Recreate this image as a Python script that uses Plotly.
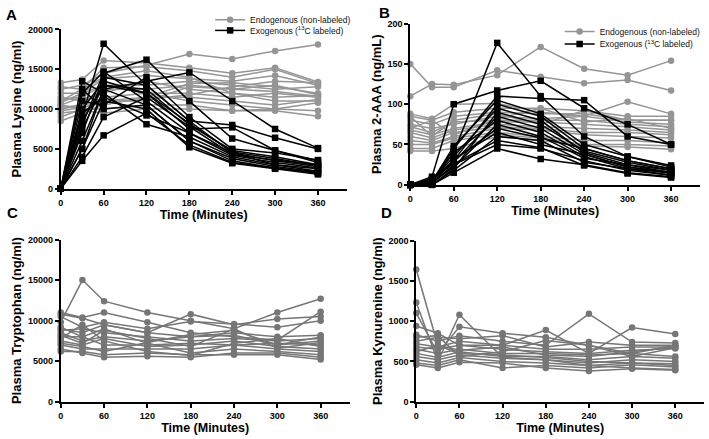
import plotly.graph_objects as go

times = [0, 30, 60, 120, 180, 240, 300, 360]
x_ticks = [0, 60, 120, 180, 240, 300, 360]

# Panel A: plasma lysine (ng/ml)
lys_endo = [
    [12500, 13000, 14500, 15500, 16900, 16300, 17300, 18100],
    [13300, 13700, 16100, 15800, 15200, 14500, 15200, 13400],
    [11000, 12500, 15200, 15300, 14800, 14000, 15000, 13200],
    [10800, 12000, 13800, 14200, 13800, 13500, 14200, 13000],
    [10500, 11500, 13000, 13000, 13500, 13000, 12500, 12800],
    [10000, 10500, 12500, 12500, 13000, 12500, 13000, 11800],
    [9000, 10000, 11500, 12000, 12000, 11500, 12000, 11500],
    [8500, 9500, 10500, 11500, 11500, 11000, 10500, 11200],
    [11500, 11000, 12000, 13500, 12500, 12000, 11000, 11000],
    [12000, 12000, 13000, 12000, 11000, 10500, 10000, 10800],
    [10500, 10000, 10000, 10500, 10500, 9800, 10000, 9800],
    [9500, 9800, 9500, 10000, 10000, 9800, 9800, 9100],
    [11200, 11500, 11000, 11000, 12800, 12500, 12200, 11600],
    [10200, 10500, 11000, 11500, 13200, 13300, 12800, 12000],
    [12800, 12500, 14000, 14800, 14000, 12000, 11500, 11700],
    [9800, 10200, 10800, 11200, 11800, 12800, 13500, 13300],
]
lys_exo = [
    [0, 9000, 18200, 13000, 8500, 4500, 3000, 2500],
    [0, 8000, 14500, 16200, 11000, 6300, 4800, 3300],
    [0, 3500, 6700, 9500, 5500, 3300, 2600, 2000],
    [0, 5000, 12500, 13500, 14600, 11000, 7500, 5100],
    [0, 7000, 14000, 13000, 8500, 8000, 6400, 5000],
    [0, 10000, 13500, 12000, 7500, 7700, 4800, 3500],
    [0, 12000, 14700, 11000, 7000, 4500, 3500, 2800],
    [0, 6000, 12500, 10500, 6000, 3500, 2600, 1900],
    [0, 5000, 11000, 10000, 5200, 3200, 2500, 1800],
    [0, 13500, 12000, 8100, 6500, 4000, 3000, 2200],
    [0, 7500, 13000, 12500, 8000, 4800, 4000, 3000],
    [0, 11000, 10500, 14000, 9000, 5000, 4500, 3600],
    [0, 9500, 11500, 9200, 7000, 4200, 3300, 2600],
    [0, 8500, 13000, 12000, 8200, 4600, 3800, 2900],
    [0, 12500, 10000, 10500, 6000, 3800, 2800, 2100],
    [0, 4000, 9000, 11500, 7800, 4300, 3600, 3000],
]

# Panel B: plasma 2-AAA (ng/mL)
aaa_endo = [
    [110, 125, 124, 136, 171, 144, 136, 154],
    [150, 121, 121, 142, 134, 126, 130, 117],
    [88, 82, 100, 101, 90, 85, 103, 88],
    [85, 80, 90, 95, 95, 92, 85, 85],
    [80, 75, 85, 90, 88, 88, 80, 80],
    [75, 70, 75, 85, 82, 85, 78, 75],
    [72, 65, 78, 80, 80, 80, 75, 72],
    [68, 62, 70, 78, 78, 75, 72, 68],
    [65, 58, 68, 75, 72, 70, 68, 65],
    [60, 55, 65, 72, 70, 65, 65, 62],
    [55, 52, 60, 70, 68, 62, 60, 58],
    [50, 50, 58, 65, 60, 55, 55, 52],
    [45, 45, 55, 62, 58, 50, 50, 48],
    [42, 42, 45, 60, 55, 48, 47, 44],
    [85, 60, 80, 88, 75, 92, 80, 80],
    [70, 80, 62, 82, 95, 78, 82, 70],
]
aaa_exo = [
    [0, 5, 40, 176, 110, 60, 35, 22],
    [0, 10, 100, 117, 129, 95, 75, 50],
    [0, 3, 45, 110, 107, 105, 60, 50],
    [0, 2, 30, 100, 85, 45, 30, 20],
    [0, 0, 20, 90, 75, 42, 28, 18],
    [0, 5, 35, 95, 80, 40, 25, 15],
    [0, 8, 28, 85, 70, 38, 22, 14],
    [0, 0, 15, 45, 32, 25, 15, 10],
    [0, 2, 25, 50, 45, 30, 18, 12],
    [0, 5, 40, 80, 65, 35, 20, 15],
    [0, 3, 22, 75, 60, 33, 25, 18],
    [0, 0, 18, 60, 55, 28, 20, 12],
    [0, 6, 30, 70, 58, 45, 30, 20],
    [0, 4, 48, 105, 88, 50, 35, 24],
    [0, 1, 32, 65, 50, 38, 22, 16],
    [0, 7, 26, 55, 46, 24, 14, 9],
]

# Panel C: plasma tryptophan (ng/ml)
trp = [
    [9800, 15000, 12400, 11000, 10000, 9000, 11000, 12700],
    [11000, 10400, 11000, 9800, 8500, 8000, 7600, 11100],
    [10800, 10300, 9500, 8500, 10800, 9500, 10200, 10500],
    [10500, 9200, 9800, 9000, 9900, 9600, 9200, 10000],
    [9000, 8500, 9500, 8500, 8000, 8500, 8000, 8200],
    [8800, 9000, 8500, 8000, 7500, 7800, 7500, 7800],
    [8500, 7500, 8000, 7500, 8000, 8200, 7000, 7500],
    [8000, 8000, 7000, 7000, 7200, 7000, 7200, 7000],
    [7500, 7000, 7800, 6800, 7000, 7500, 6800, 6500],
    [7000, 6500, 6500, 6500, 6500, 7000, 6500, 6200],
    [6500, 6000, 5500, 5600, 5500, 6000, 6000, 5500],
    [6200, 6200, 5800, 6000, 5800, 5800, 5800, 5200],
    [9200, 8000, 9000, 7200, 6000, 6500, 6200, 5800],
    [7800, 9500, 7500, 6200, 5700, 7200, 7800, 6800],
    [8200, 7200, 8800, 7800, 6800, 9000, 6600, 7300],
    [7200, 6800, 6200, 7300, 8300, 8800, 7000, 8000],
]

# Panel D: plasma kynurenine (ng/ml)
kyn = [
    [1640, 700, 600, 580, 550, 500, 480, 450],
    [1230, 500, 1080, 550, 520, 450, 420, 400],
    [1100, 600, 930, 850, 800, 700, 600, 700],
    [940, 850, 700, 700, 890, 600, 920, 840],
    [830, 750, 820, 750, 700, 1090, 740, 730],
    [750, 800, 780, 820, 680, 740, 700, 700],
    [720, 680, 750, 700, 650, 650, 680, 680],
    [680, 650, 700, 650, 620, 600, 640, 660],
    [650, 600, 650, 600, 600, 580, 600, 560],
    [600, 550, 620, 560, 560, 520, 560, 540],
    [560, 520, 580, 540, 520, 480, 520, 500],
    [520, 480, 550, 500, 480, 450, 480, 470],
    [480, 450, 520, 420, 450, 420, 460, 430],
    [460, 420, 490, 480, 420, 380, 410, 390],
    [800, 820, 560, 620, 760, 700, 560, 670],
    [620, 700, 640, 680, 580, 560, 620, 680],
]

W, H = 709, 439
GRAY_AB = "#959595"
GRAY_CD = "#767676"
BLACK = "#000000"
FONT = "Liberation Sans, Arial, sans-serif"

fig = go.Figure()


def add_group(series, xa, ya, color, symbol, name, legend=None):
    for i, s in enumerate(series):
        fig.add_trace(go.Scatter(
            x=times, y=s, mode="lines+markers", xaxis=xa, yaxis=ya,
            line=dict(color=color, width=1.5),
            marker=dict(color=color, symbol=symbol, size=6.5, line=dict(width=0)),
            cliponaxis=False, name=name, hoverinfo="skip",
            legend=legend if legend else "legend",
            showlegend=(legend is not None and i == 0),
        ))


add_group(lys_endo, "x", "y", GRAY_AB, "circle", "Endogenous (non-labeled)", "legend")
add_group(lys_exo, "x", "y", BLACK, "square", "Exogenous (<sup>13</sup>C labeled)", "legend2")
add_group(aaa_endo, "x2", "y2", GRAY_AB, "circle", "Endogenous (non-labeled)", "legend3")
add_group(aaa_exo, "x2", "y2", BLACK, "square", "Exogenous (<sup>13</sup>C labeled)", "legend4")
add_group(trp, "x3", "y3", GRAY_CD, "circle", "Tryptophan")
add_group(kyn, "x4", "y4", GRAY_CD, "circle", "Kynurenine")


def px_x(p):
    return p / W


def px_y(p):
    return 1 - p / H


def xaxis(dom, anchor):
    return dict(
        domain=[px_x(dom[0]), px_x(dom[1])], anchor=anchor, range=[0, 400],
        tickvals=x_ticks, ticks="outside", ticklen=4, tickwidth=1.5, tickcolor="black",
        showline=True, linewidth=2, linecolor="black", showgrid=False, zeroline=False,
        tickfont=dict(family=FONT, size=9, color="black", weight="bold"),
        title=dict(text="<b>Time (Minutes)</b>", standoff=3,
                   font=dict(family=FONT, size=12.5, color="black")),
    )


def yaxis(dom, anchor, top, dtick, title):
    return dict(
        domain=[px_y(dom[1]), px_y(dom[0])], anchor=anchor, range=[0, top],
        dtick=dtick, tickformat="d", ticks="outside", ticklen=4, tickwidth=1.5, tickcolor="black",
        showline=True, linewidth=2, linecolor="black", showgrid=False, zeroline=False,
        tickfont=dict(family=FONT, size=9, color="black", weight="bold"),
        title=dict(text="<b>" + title + "</b>", standoff=3,
                   font=dict(family=FONT, size=13, color="black")),
    )


def leg(xp, yp):
    return dict(x=px_x(xp), y=px_y(yp), xanchor="left", yanchor="middle",
                bgcolor="rgba(0,0,0,0)", itemwidth=30,
                font=dict(family=FONT, size=8.5, color="#111111"))


fig.update_layout(
    width=W, height=H, margin=dict(l=0, r=0, t=0, b=0),
    paper_bgcolor="white", plot_bgcolor="white",
    font=dict(family=FONT, color="black"),
    xaxis=xaxis((58, 345), "y"),
    yaxis=yaxis((25, 188), "x", 20000, 5000, "Plasma Lysine (ng/ml)"),
    xaxis2=xaxis((409, 700), "y2"),
    yaxis2=yaxis((19, 184), "x2", 200, 50, "Plasma 2-AAA (ng/mL)"),
    xaxis3=xaxis((58, 348), "y3"),
    yaxis3=yaxis((240, 406), "x3", 20000, 5000, "Plasma Tryptophan (ng/ml)"),
    xaxis4=xaxis((415, 704), "y4"),
    yaxis4=yaxis((241, 406), "x4", 2000, 500, "Plasma Kynurenine (ng/ml)"),
    legend=leg(208, 15),
    legend2=leg(208, 26),
    legend3=leg(559, 27),
    legend4=leg(559, 40),
)

for txt, xp, yp in [("A", 1, 10), ("B", 376, 8), ("C", 2, 212), ("D", 378, 212)]:
    fig.add_annotation(text="<b>" + txt + "</b>", x=px_x(xp), y=px_y(yp), xref="paper", yref="paper",
                       xanchor="left", yanchor="middle", showarrow=False,
                       font=dict(family=FONT, size=15, color="black"))

fig.write_html("out.html")
